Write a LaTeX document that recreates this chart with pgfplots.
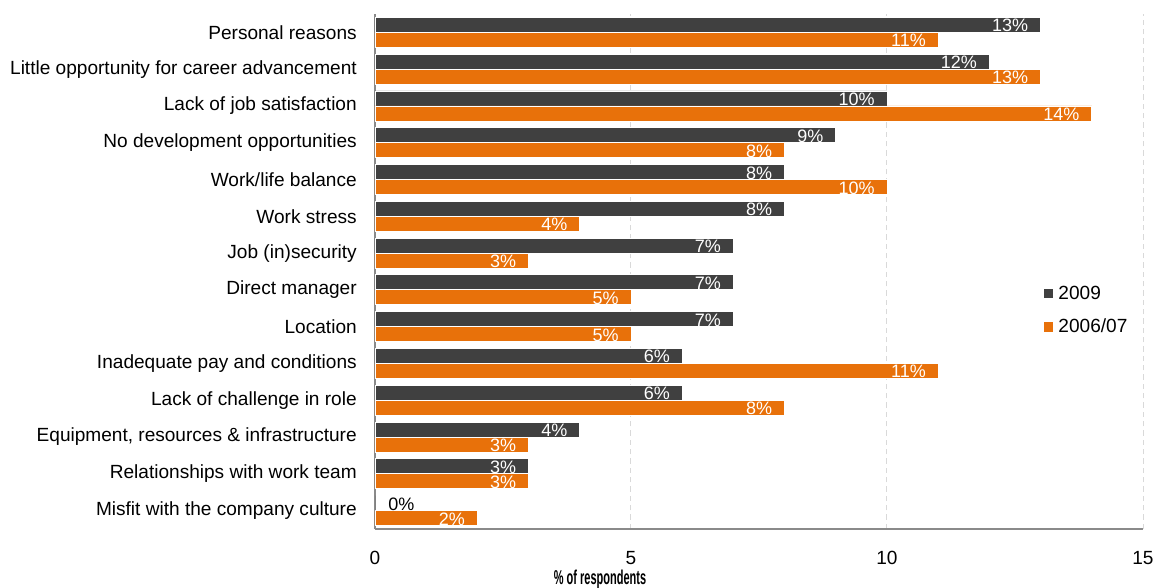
\documentclass[border=0pt]{standalone}
\usepackage{fontspec}
\setmainfont{Liberation Sans}
\usepackage{pgfplots}
\pgfplotsset{compat=1.18}
\definecolor{dark}{HTML}{404040}
\definecolor{orng}{HTML}{E8710A}
\definecolor{axgray}{HTML}{8A8A8A}
\definecolor{gridgray}{HTML}{D9D9D9}
\newcommand{\lblfont}{\fontsize{14.3}{16}\selectfont}
\newcommand{\barfont}{\fontsize{13.5}{15}\selectfont}
\begin{document}
\begin{tikzpicture}
\useasboundingbox (-281.25pt,-44.25pt) rectangle (586.5pt,396.75pt);
\begin{axis}[
  at={(0pt,0pt)}, anchor=south west,
  scale only axis, width=576pt, height=386.25pt,
  xbar, bar width=11.25pt,
  xmin=0, xmax=15, ymin=-0.5, ymax=13.5,
  xtick={0,5,10,15},
  ytick={0,...,13},
  yticklabels={Misfit with the company culture,Relationships with work team,{Equipment, resources \& infrastructure},Lack of challenge in role,Inadequate pay and conditions,Location,Direct manager,Job (in)security,Work stress,Work/life balance,No development opportunities,Lack of job satisfaction,Little opportunity for career advancement,Personal reasons},
  /pgf/number format/assume math mode=true,
  axis x line*=bottom, axis y line*=left,
  axis line style={-, draw=axgray, line width=1.5pt},
  every outer x axis line/.append style={-},
  every outer y axis line/.append style={-},
  major tick length=0pt,
  xmajorgrids, grid style={gridgray, dashed, line width=0.75pt, dash pattern=on 4pt off 3pt},
  xticklabel style={font=\lblfont, anchor=center, yshift=-21.75pt},
  yticklabel style={font=\lblfont, anchor=east, inner sep=0pt, xshift=-13.5pt},
  xlabel={\scalebox{0.55}[1]{\bfseries\fontsize{15}{17}\selectfont\% of respondents}},
  xlabel style={at={(rel axis cs:0.293,0)}, anchor=center, yshift=-37.5pt},
  point meta=x,
  nodes near coords={\pgfmathprintnumber{\pgfplotspointmeta}\%},
  nodes near coords style={font=\barfont, text=white, anchor=east, inner sep=0pt, xshift=-9pt, yshift=-0.6pt},
  legend style={at={(rel axis cs:0.8705,0.478)}, anchor=north west, draw=none, fill=none, font=\lblfont, row sep=9.5pt, inner sep=0pt, nodes={inner xsep=4pt}},
  legend cell align=left,
  legend image code/.code={\path[#1,draw=none] (0pt,-3.5pt) rectangle (7pt,3.5pt);},
]
\addplot[fill=dark, draw=white, line width=0.6pt, bar shift=5.625pt] coordinates {
  (13,13) (12,12) (10,11) (9,10) (8,9) (8,8) (7,7) (7,6) (7,5) (6,4) (6,3) (4,2) (3,1)
};
\addlegendentry{2009}
\addplot[fill=orng, draw=white, line width=0.6pt, bar shift=-5.625pt] coordinates {
  (11,13) (13,12) (14,11) (8,10) (10,9) (4,8) (3,7) (5,6) (5,5) (11,4) (8,3) (3,2) (3,1) (2,0)
};
\addlegendentry{2006/07}
\addplot[fill=dark, draw=none, bar shift=5.625pt, forget plot,
  nodes near coords style={text=black, anchor=west, xshift=18.75pt}] coordinates {
  (0,0)
};
\end{axis}
\end{tikzpicture}
\end{document}
